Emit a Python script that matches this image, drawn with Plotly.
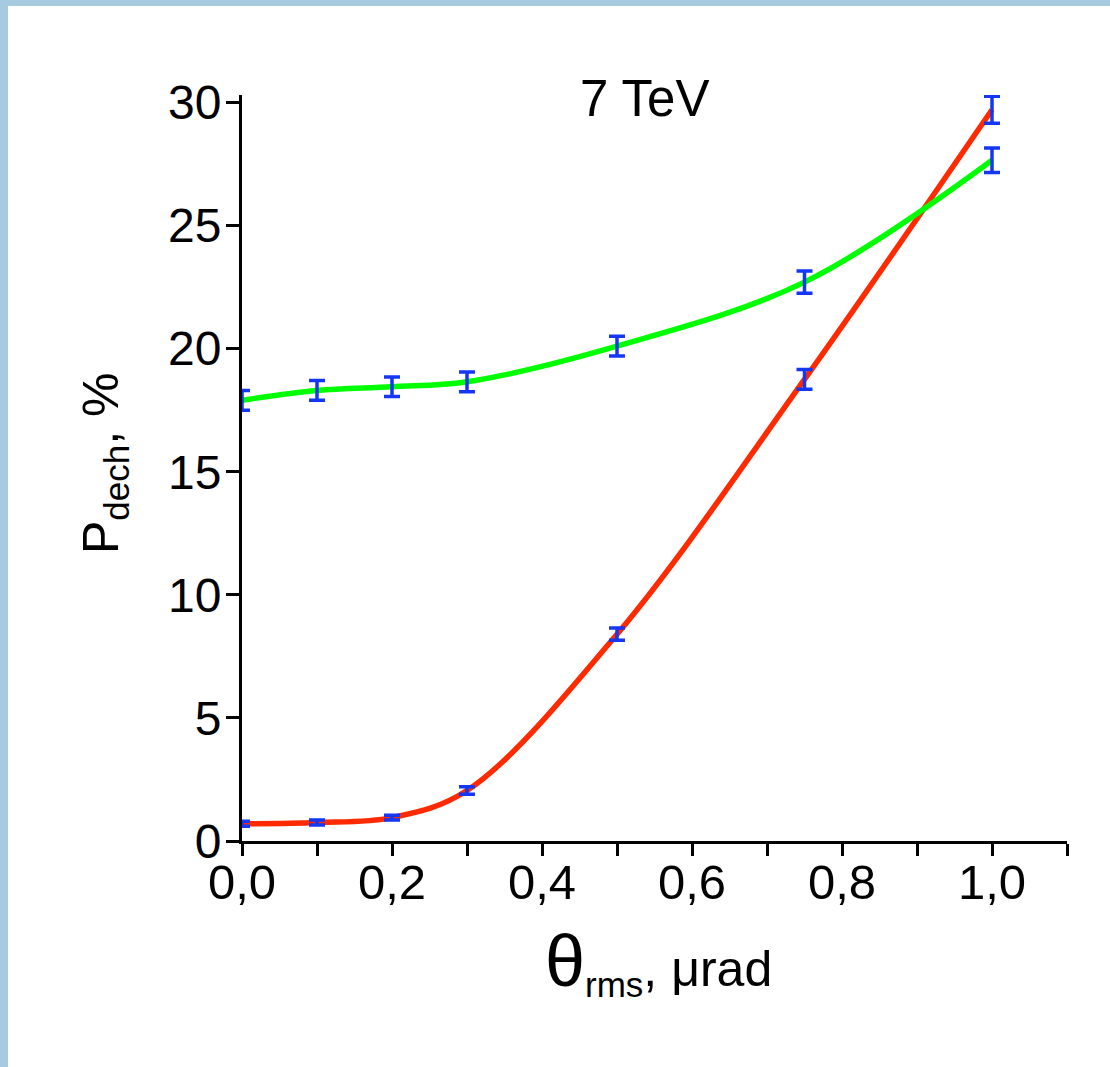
import plotly.graph_objects as go

x_vals = [0.0, 0.1, 0.2, 0.3, 0.5, 0.75, 1.0]
green_vals = [17.9, 18.3, 18.45, 18.65, 20.1, 22.7, 27.65]
green_err = [0.4, 0.4, 0.4, 0.4, 0.4, 0.45, 0.5]
red_vals = [0.7, 0.75, 0.95, 2.05, 8.4, 18.75, 29.7]
red_err = [0.1, 0.1, 0.1, 0.15, 0.25, 0.4, 0.55]
x_tickvals = [0, 0.2, 0.4, 0.6, 0.8, 1.0]
x_ticktext = ["0,0", "0,2", "0,4", "0,6", "0,8", "1,0"]
x_minor = [0.1, 0.3, 0.5, 0.7, 0.9, 1.1]
y_tickvals = [0, 5, 10, 15, 20, 25, 30]

FONT = "Liberation Sans, Arial, sans-serif"
BLUE = "#1436f5"

fig = go.Figure()
fig.add_trace(go.Scatter(x=x_vals, y=red_vals, mode="lines",
                         line=dict(color="#ff2a00", width=5.5, shape="spline", smoothing=1.0),
                         hoverinfo="skip", showlegend=False))
fig.add_trace(go.Scatter(x=x_vals, y=green_vals, mode="lines",
                         line=dict(color="#00ff00", width=5.5, shape="spline", smoothing=1.0),
                         hoverinfo="skip", showlegend=False))
for vals, errs in ((red_vals, red_err), (green_vals, green_err)):
    fig.add_trace(go.Scatter(x=x_vals, y=vals, mode="markers",
                             marker=dict(size=1, color="rgba(0,0,0,0)"),
                             error_y=dict(type="data", array=errs, visible=True,
                                          color=BLUE, thickness=3.5, width=8),
                             showlegend=False))

fig.update_layout(
    width=1110, height=1067,
    paper_bgcolor="#a6cbe0",
    plot_bgcolor="white",
    margin=dict(l=242, r=43, t=95, b=226),
    font=dict(family=FONT, size=48, color="black"),
    shapes=[dict(type="rect", xref="paper", yref="paper", layer="below",
                 x0=(8-242)/825, x1=1.2, y0=-1, y1=(841-6)/746,
                 fillcolor="white", line=dict(width=0))],
    xaxis=dict(range=[0, 1.1], tickmode="array",
               tickvals=x_tickvals, ticktext=x_ticktext,
               ticks="outside", ticklen=12, tickwidth=3, tickcolor="black",
               minor=dict(tickvals=x_minor, ticks="outside",
                          ticklen=12, tickwidth=3, tickcolor="black"),
               showline=True, linecolor="black", linewidth=3,
               showgrid=False, zeroline=False,
               tickfont=dict(family=FONT, size=49)),
    yaxis=dict(range=[0, 30.3], tickmode="array",
               tickvals=y_tickvals,
               ticks="outside", ticklen=13, tickwidth=3, tickcolor="black",
               showline=True, linecolor="black", linewidth=3,
               showgrid=False, zeroline=False,
               tickfont=dict(family=FONT, size=48)),
    annotations=[
        dict(text="7 TeV", x=(645-242)/825, y=(841-98)/746, xref="paper", yref="paper",
             showarrow=False, font=dict(family=FONT, size=51), xanchor="center", yanchor="middle"),
        dict(text='<span style="font-size:72px">θ</span><sub>rms</sub>, μrad',
             x=(658-242)/825, y=(841-962)/746, xref="paper", yref="paper",
             showarrow=False, font=dict(family=FONT, size=50), xanchor="center", yanchor="middle"),
        dict(text="P<sub>dech</sub>, %", textangle=-90,
             x=(104-242)/825, y=(841-463)/746, xref="paper", yref="paper",
             showarrow=False, font=dict(family=FONT, size=50), xanchor="center", yanchor="middle"),
    ],
)

try:
    fig.update_xaxes(ticklabelstandoff=-16)
    fig.update_yaxes(ticklabelstandoff=-5)
except Exception:
    pass

fig.write_html("out.html", config={"displayModeBar": False},
               post_script="document.body.style.margin='0';")
